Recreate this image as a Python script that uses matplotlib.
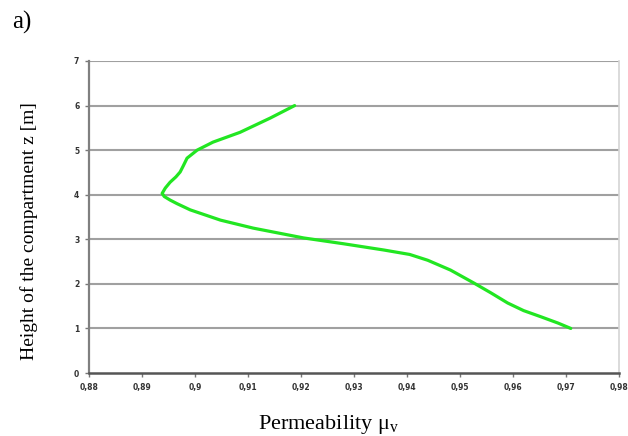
import matplotlib.pyplot as plt

# permeability profile
height = [1.0, 1.12, 1.26, 1.40, 1.57, 1.80, 2.02, 2.31, 2.53, 2.66, 2.76,
          2.90, 3.03, 3.25, 3.43, 3.66, 3.80, 3.88, 3.96, 4.03, 4.15, 4.28,
          4.40, 4.51, 4.65, 4.82, 5.0, 5.18, 5.40, 5.72, 6.0]
permeability = [0.9709, 0.9685, 0.9653, 0.9620, 0.9590, 0.9558, 0.9526, 0.9482,
                0.9439, 0.9405, 0.9356, 0.9280, 0.9205, 0.9110, 0.9048, 0.8991,
                0.8966, 0.8953, 0.8942, 0.8938, 0.8944, 0.8953, 0.8964, 0.8972,
                0.8978, 0.8985, 0.9004, 0.9034, 0.9085, 0.9142, 0.9188]

x_ticks = [0.88, 0.89, 0.90, 0.91, 0.92, 0.93, 0.94, 0.95, 0.96, 0.97, 0.98]
x_labels = ['0,88', '0,89', '0,9', '0,91', '0,92', '0,93', '0,94', '0,95',
            '0,96', '0,97', '0,98']
y_ticks = [0, 1, 2, 3, 4, 5, 6, 7]

W, H = 628, 436
fig = plt.figure(figsize=(W / 100, H / 100), dpi=100)
fig.patch.set_facecolor('white')

# axes box in pixels: left 89, right 619, top 61, bottom 373
ax = fig.add_axes([89 / W, 1 - 373 / H, (619 - 89) / W, (373 - 61) / H])
ax.plot(permeability, height, color='#22e622', lw=2.3, solid_capstyle='round',
        solid_joinstyle='round', zorder=3)

ax.set_xlim(0.88, 0.98)
ax.set_ylim(0, 7)
ax.set_xticks(x_ticks)
ax.set_xticklabels(x_labels)
ax.set_yticks(y_ticks)
ax.set_yticklabels([str(v) for v in y_ticks])

for lab in ax.get_xticklabels() + ax.get_yticklabels():
    lab.set_fontfamily(['Liberation Sans Narrow', 'DejaVu Sans'])
    lab.set_fontweight('bold')
    lab.set_fontsize(5.5)
    lab.set_color('#333333')
ax.tick_params(axis='both', direction='out', length=3, width=1, color='#777777', pad=4)

for y in y_ticks[1:]:
    ax.axhline(y, color='#a0a0a0', lw=1.5, zorder=1)

ax.spines['left'].set_color('#808080')
ax.spines['left'].set_linewidth(1.6)
ax.spines['bottom'].set_color('#555555')
ax.spines['bottom'].set_linewidth(1.8)
ax.spines['right'].set_color('#d4d4d4')
ax.spines['right'].set_linewidth(1.2)
ax.spines['top'].set_visible(False)

serif = ['Liberation Serif', 'DejaVu Serif']
fig.text(0.5 * (247 + 410) / W, 1 - 424 / H, 'Permeability $\\mathregular{\\mu_v}$',
         family=serif, fontsize=16, ha='center', va='center')
fig.text(29 / W, 1 - 231 / H, 'Height of the compartment z [m]',
         family=serif, fontsize=14, rotation=90, ha='center', va='center')
fig.text(12 / W, 1 - 22 / H, 'a)', family=serif, fontsize=18, ha='left', va='center')

fig.savefig('out.png', dpi=100)
